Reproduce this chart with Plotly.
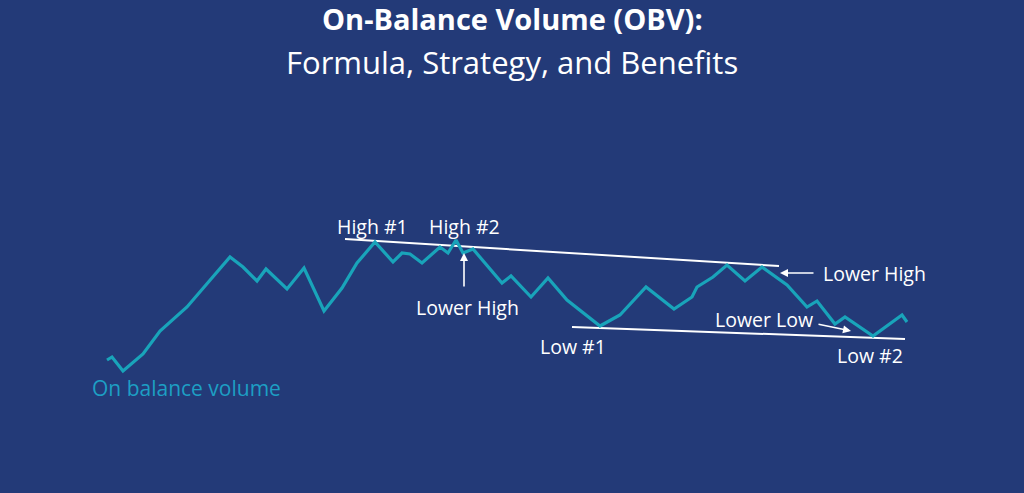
import plotly.graph_objects as go

H = 493
# OBV path (x position, level measured from bottom)
obv_x = [107, 112, 123, 143, 160, 187, 230, 243, 257, 266, 287, 304, 324,
         342, 357, 375, 393, 402, 410, 422, 440, 448, 456, 463, 473,
         502, 511, 531, 548, 567, 600, 607, 620, 646, 660, 674, 692, 697,
         713, 727, 745, 762, 787, 807, 817, 835, 845, 873, 902, 907]
obv_py = [360, 357, 371, 354, 331, 307, 257, 267, 281, 269, 289, 268, 311,
          288, 263, 242, 262, 253, 254, 263, 247, 253, 240, 253, 249,
          283, 276, 297, 278, 300, 326, 322, 315, 287, 298, 309, 297, 287,
          277, 265, 281, 267, 285, 307, 301, 324, 317, 336, 315, 322]
obv_y = [H - v for v in obv_py]

high_line_x = [345, 779]
high_line_y = [H - 239, H - 266]
low_line_x = [572, 905]
low_line_y = [H - 327, H - 339]

labels = ["High #1", "High #2", "Lower High", "Low #1", "Lower Low", "Lower High", "Low #2"]
label_x = [372, 464, 467, 573, 764, 874, 870]
label_py = [226, 226, 307, 346, 319, 273, 355]

BG = "#233a78"
TEAL = "#19a4ba"
FONT = "Open Sans"

fig = go.Figure()
fig.add_trace(go.Scatter(x=high_line_x, y=high_line_y, mode="lines",
                         line=dict(color="white", width=2), hoverinfo="skip"))
fig.add_trace(go.Scatter(x=low_line_x, y=low_line_y, mode="lines",
                         line=dict(color="white", width=2), hoverinfo="skip"))
fig.add_trace(go.Scatter(x=obv_x, y=obv_y, mode="lines",
                         line=dict(color=TEAL, width=3.2)))

ann = []
for t, x, py in zip(labels, label_x, label_py):
    ann.append(dict(x=x, y=H - py, xref="x", yref="y", text=t, showarrow=False,
                    font=dict(family=FONT, size=19.5, color="white")))

# arrows
arrows = [((464, 253), (464, 288)), ((780, 273), (815, 273)), ((851, 331), (817, 324))]
for (hx, hy), (tx, ty) in arrows:
    ann.append(dict(x=hx, y=H - hy, ax=tx, ay=H - ty, xref="x", yref="y",
                    axref="x", ayref="y", text="", showarrow=True,
                    arrowhead=2, arrowsize=1, arrowwidth=1.6, arrowcolor="white"))

ann.append(dict(x=90, y=H - 388, xref="x", yref="y", text="On balance volume",
                xanchor="left", showarrow=False,
                font=dict(family=FONT, size=21, color="#1d9fc4")))
ann.append(dict(x=512, y=H - 18, xref="x", yref="y", text="<b>On-Balance Volume (OBV):</b>",
                showarrow=False, font=dict(family=FONT, size=29, color="white")))
ann.append(dict(x=512, y=H - 62, xref="x", yref="y", text="Formula, Strategy, and Benefits",
                showarrow=False, font=dict(family=FONT, size=31, color="white")))

fig.update_layout(
    width=1024, height=493, margin=dict(l=0, r=0, t=0, b=0),
    paper_bgcolor=BG, plot_bgcolor=BG, showlegend=False,
    xaxis=dict(range=[0, 1024], visible=False, fixedrange=True),
    yaxis=dict(range=[0, 493], visible=False, fixedrange=True),
    annotations=ann,
)
fig.write_html("out.html", config={"displayModeBar": False},
               post_script="document.body.style.margin='0';document.body.style.background='#233a78';")
